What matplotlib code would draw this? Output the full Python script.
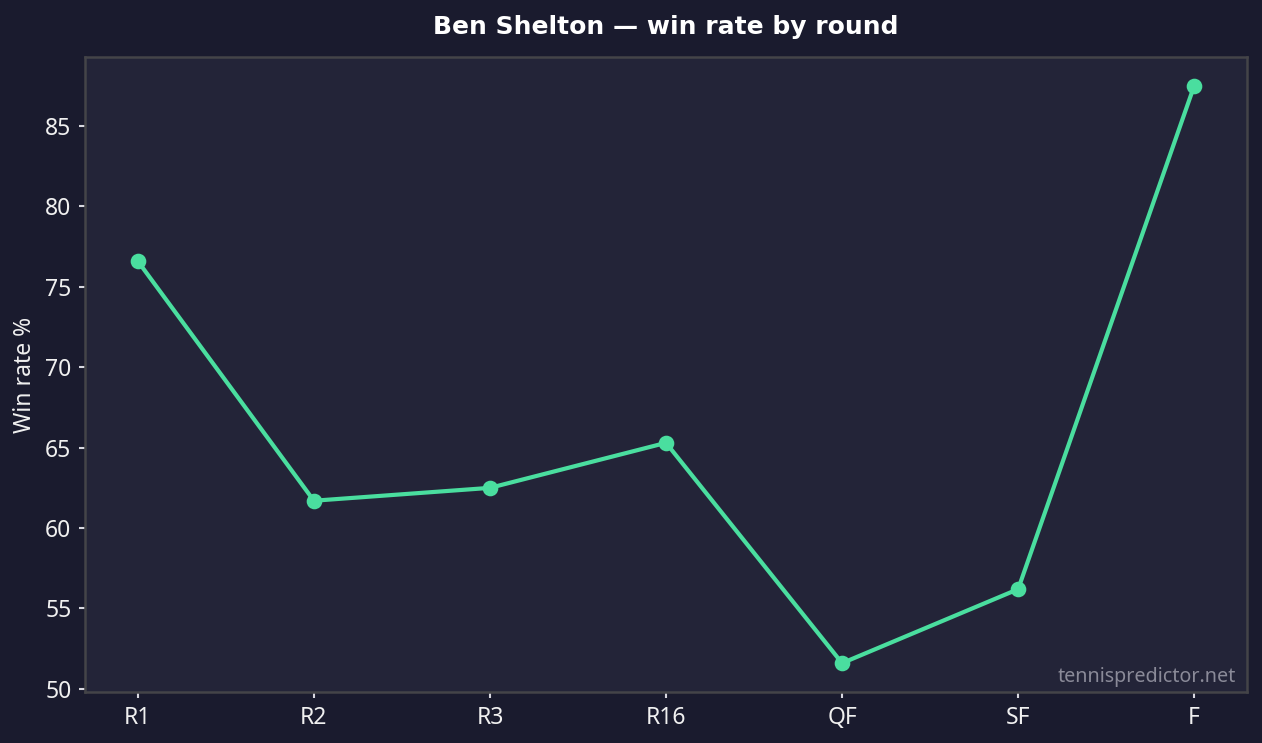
import matplotlib.pyplot as plt

rounds = ['R1', 'R2', 'R3', 'R16', 'QF', 'SF', 'F']
win_rate = [76.6, 61.7, 62.5, 65.3, 51.6, 56.2, 87.5]

bg = '#1a1b2e'
panel = '#232438'
line_col = '#4ade9f'
text_col = '#f0f0f0'

plt.rcParams['font.family'] = ['Noto Sans', 'DejaVu Sans']

fig = plt.figure(figsize=(1262 / 150, 743 / 150), dpi=150, facecolor=bg)
ax = fig.add_axes([85 / 1262, 1 - 692 / 743, (1247 - 85) / 1262, (692 - 57) / 743])
ax.set_facecolor(panel)

ax.plot(rounds, win_rate, color=line_col, linewidth=2, marker='o', markersize=6.5)

for s in ax.spines.values():
    s.set_color('#444448')
    s.set_linewidth(1.2)
ax.tick_params(colors='#d8d8e0', labelcolor=text_col, labelsize=11, length=3, width=1)
ax.set_ylabel('Win rate %', color=text_col, fontsize=11)

ax.set_title('Ben Shelton — win rate by round', color='white', fontsize=12,
             fontweight='bold', family='DejaVu Sans', pad=11)

ax.text(0.99, 0.008, 'tennispredictor.net', transform=ax.transAxes, ha='right',
        va='bottom', color='#8a8a98', fontsize=9.5)

fig.savefig('out.png', dpi=150, facecolor=bg)
